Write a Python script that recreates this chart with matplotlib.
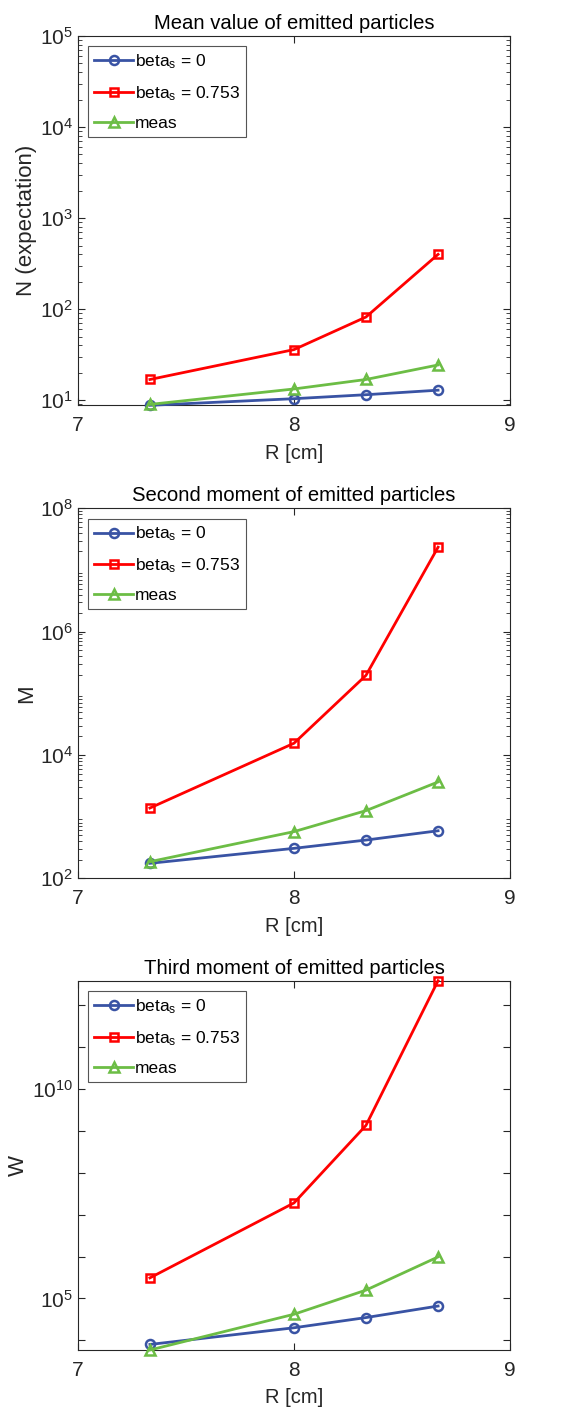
import matplotlib.pyplot as plt
import matplotlib.ticker as mticker
import numpy as np

plt.rcParams['font.family'] = ['Liberation Sans', 'DejaVu Sans']
plt.rcParams['mathtext.fontset'] = 'custom'
plt.rcParams['mathtext.rm'] = 'Liberation Sans'
plt.rcParams['mathtext.it'] = 'Liberation Sans'

# datos
R = [7.333, 8.0, 8.333, 8.667]

N_beta0 = [8.8, 10.4, 11.5, 12.9]
N_beta753 = [16.9, 36, 82, 400]
N_meas = [9.0, 13.3, 16.9, 24.4]

M_beta0 = [175, 306, 417, 590]
M_beta753 = [1380, 15500, 195000, 2.34e7]
M_meas = [186, 571, 1250, 3650]

W_beta0 = [8.0e3, 2.0e4, 3.5e4, 6.6e4]
W_beta753 = [3.1e5, 1.9e7, 1.34e9, 3.8e12]
W_meas = [5.9e3, 4.2e4, 1.58e5, 9.8e5]

titulos = ["Mean value of emitted particles",
           "Second moment of emitted particles",
           "Third moment of emitted particles"]
ylabels = ["N (expectation)", "M", "W"]
etiquetas = ["beta$_{\\mathrm{s}}$ = 0", "beta$_{\\mathrm{s}}$ = 0.753", "meas"]

azul = "#3953a4"
rojo = "#ff0000"
verde = "#6cbd45"
gris = "#262626"

fig = plt.figure(figsize=(5.84, 14.12), dpi=100)
H = 1412.0
W = 584.0
cajas = [(36, 405.3), (508.3, 878.3), (980.7, 1350)]
datos = [(N_beta0, N_beta753, N_meas),
         (M_beta0, M_beta753, M_meas),
         (W_beta0, W_beta753, W_meas)]
limites = [(8.8, 1e5), (1e2, 1e8), (5.9e3, 3.8e12)]

for k in range(3):
    top, bot = cajas[k]
    ax = fig.add_axes([78 / W, 1 - bot / H, (510 - 78) / W, (bot - top) / H])
    b0, b7, me = datos[k]
    ax.plot(R, b0, color=azul, lw=2, marker="o", ms=6.5, mfc="none", mew=1.8,
            label=etiquetas[0], clip_on=False, zorder=3)
    ax.plot(R, b7, color=rojo, lw=2, marker="s", ms=5.5, mfc="none", mew=1.8,
            label=etiquetas[1], clip_on=False, zorder=3)
    ax.plot(R, me, color=verde, lw=2, marker="^", ms=7.5, mfc="none", mew=1.8,
            label=etiquetas[2], clip_on=False, zorder=3)
    ax.set_yscale("log")
    ax.set_xlim(7, 9)
    ax.set_ylim(*limites[k])
    ax.set_xticks([7, 8, 9])
    ax.set_title(titulos[k], fontsize=14.6, color="black", pad=5)
    ax.set_xlabel("R [cm]", fontsize=14.5, color=gris, labelpad=6)
    ax.set_ylabel(ylabels[k], fontsize=16, color=gris, labelpad=2)
    if k == 2:
        ax.yaxis.set_major_locator(mticker.FixedLocator([1e5, 1e10]))
        ax.yaxis.set_minor_locator(mticker.FixedLocator(
            [10.0 ** e for e in range(3, 13) if e not in (5, 10)]))
        ax.yaxis.set_minor_formatter(mticker.NullFormatter())
        ax.tick_params(axis="y", which="minor", length=5, width=0.8)
    else:
        if k == 0:
            ax.yaxis.set_major_locator(mticker.LogLocator(base=10, numticks=20))
        else:
            ax.yaxis.set_major_locator(mticker.FixedLocator([1e2, 1e4, 1e6, 1e8]))
        ax.yaxis.set_minor_locator(mticker.LogLocator(base=10, subs=np.arange(2, 10), numticks=20))
        ax.yaxis.set_minor_formatter(mticker.NullFormatter())
        ax.tick_params(axis="y", which="minor", length=3, width=0.6)
    ax.yaxis.set_major_formatter(mticker.LogFormatterSciNotation())
    ax.tick_params(which="both", direction="in", top=True, right=True,
                   labelsize=15, colors=gris)
    ax.tick_params(which="major", length=5, width=0.8)
    ax.tick_params(axis="x", pad=8)
    for s in ax.spines.values():
        s.set_color(gris)
        s.set_linewidth(0.8)
    leg = ax.legend(loc="upper left", fontsize=12.5, frameon=True, fancybox=False,
                    edgecolor="#555555", framealpha=1, borderaxespad=0.6,
                    handlelength=2.2, handletextpad=0.15, labelspacing=0.75,
                    borderpad=0.35)
    leg.get_frame().set_linewidth(0.8)

fig.savefig("out.png", dpi=100)
